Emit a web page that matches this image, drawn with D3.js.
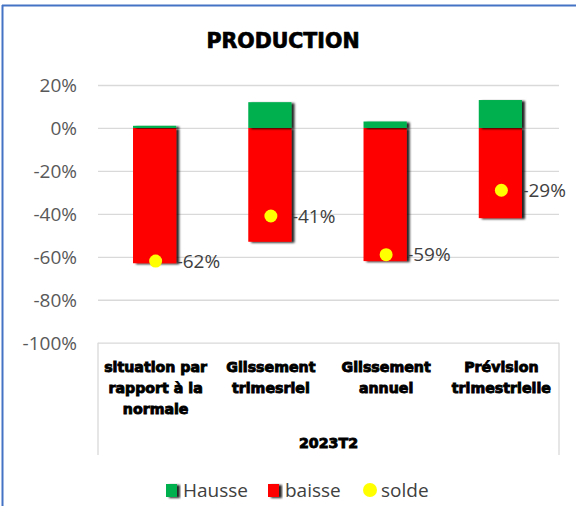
<!DOCTYPE html>
<html>
<head>
<meta charset="utf-8">
<script src="https://cdn.jsdelivr.net/npm/d3@7"></script>
<style>
  html, body { margin: 0; padding: 0; background: #fff; }
  svg { display: block; }
</style>
</head>
<body>
<div id="chart"></div>
<script>
// Production survey balances, 2023T2
const categories = [
  ["situation par", "rapport à la", "normale"],
  ["Glissement", "trimesriel"],
  ["Glissement", "annuel"],
  ["Prévision", "trimestrielle"]
];
const hausse = [1, 12, 3, 13];
const baisse = [-63, -53, -62, -42];
const solde = [-62, -41, -59, -29];
const yTicks = [20, 0, -20, -40, -60, -80, -100];
const periodLabel = "2023T2";
const legendItems = [
  { key: "Hausse", type: "rect", color: "#00B050" },
  { key: "baisse", type: "rect", color: "#FF0000" },
  { key: "solde", type: "dot", color: "#FFFF00" }
];

const W = 576, H = 506;
const svg = d3.select("#chart").append("svg").attr("width", W).attr("height", H);

const defs = svg.append("defs");
const shadow = defs.append("filter").attr("id", "barShadow")
  .attr("x", "-20%").attr("y", "-20%").attr("width", "150%").attr("height", "150%");
shadow.append("feDropShadow")
  .attr("dx", 3).attr("dy", 1).attr("stdDeviation", 1.2)
  .attr("flood-color", "#000").attr("flood-opacity", 0.85);

// outer frame (top and left edges)
svg.append("line").attr("x1", 2).attr("x2", W).attr("y1", 5.5).attr("y2", 5.5)
  .attr("stroke", "#4472C4").attr("stroke-width", 2);
svg.append("line").attr("x1", 2.5).attr("x2", 2.5).attr("y1", 5).attr("y2", H)
  .attr("stroke", "#4472C4").attr("stroke-width", 2);

// title
svg.append("text").attr("x", 283).attr("y", 48).attr("text-anchor", "middle")
  .attr("font-family", "'DejaVu Sans', sans-serif").attr("font-weight", "bold")
  .attr("font-size", 20.5).attr("fill", "#000").attr("stroke", "#000").attr("stroke-width", 0.7)
  .text("PRODUCTION");

const plotL = 98, plotR = 559;
const y = d3.scaleLinear().domain([-100, 20]).range([342.7, 85]);
const x = d3.scaleBand().domain(d3.range(categories.length)).range([plotL, plotR]).padding(0);
const barW = x.bandwidth() * 0.375;
const cx = i => x(i) + x.bandwidth() / 2 - 1;

// gridlines + y labels
const yAxis = d3.axisLeft(y).tickValues(yTicks).tickSize(-(plotR - plotL)).tickFormat(d => d + "%");
const gy = svg.append("g").attr("transform", `translate(${plotL},0)`).call(yAxis);
gy.select(".domain").remove();
gy.selectAll(".tick line").attr("stroke", "#d9d9d9").attr("stroke-width", 1.3);
gy.selectAll(".tick text").attr("x", -21).attr("dy", "0.35em")
  .attr("font-family", "'Open Sans', sans-serif").attr("font-size", 19).attr("fill", "#595959");

// category box below the -100% line
const boxTop = y(-100), boxBottom = 455;
[plotL, plotR].forEach(px => {
  svg.append("line").attr("x1", px).attr("x2", px).attr("y1", boxTop).attr("y2", boxBottom)
    .attr("stroke", "#d9d9d9").attr("stroke-width", 1.3);
});

// bars
const bars = svg.append("g");
bars.selectAll("rect.baisse").data(baisse).join("rect").attr("class", "baisse")
  .attr("x", (d, i) => cx(i) - barW / 2).attr("width", barW)
  .attr("y", y(0)).attr("height", d => y(d) - y(0))
  .attr("fill", "#FF0000").attr("filter", "url(#barShadow)");
bars.selectAll("rect.hausse").data(hausse).join("rect").attr("class", "hausse")
  .attr("x", (d, i) => cx(i) - barW / 2).attr("width", barW)
  .attr("y", d => y(d)).attr("height", d => y(0) - y(d))
  .attr("fill", "#00B050").attr("filter", "url(#barShadow)");

// solde markers and labels
svg.append("g").selectAll("circle").data(solde).join("circle")
  .attr("cx", (d, i) => cx(i) + 1).attr("cy", d => y(d)).attr("r", 6.5).attr("fill", "#FFFF00");
svg.append("g").selectAll("text").data(solde).join("text")
  .attr("x", (d, i) => cx(i) + 22).attr("y", d => y(d)).attr("dy", "0.36em")
  .attr("font-family", "'Open Sans', sans-serif").attr("font-size", 19).attr("fill", "#404040")
  .text(d => d + "%");

// category labels
const catG = svg.append("g").attr("font-family", "'DejaVu Sans', sans-serif")
  .attr("font-weight", "bold").attr("font-size", 14.2).attr("fill", "#000")
  .attr("stroke", "#000").attr("stroke-width", 0.9).attr("text-anchor", "middle");
categories.forEach((lines, i) => {
  lines.forEach((ln, j) => {
    catG.append("text").attr("x", x(i) + x.bandwidth() / 2).attr("y", 367 + j * 21)
      .attr("dy", "0.35em").text(ln);
  });
});
catG.append("text").attr("x", (plotL + plotR) / 2).attr("y", 443).attr("dy", "0.35em").text(periodLabel);

// legend
const lg = svg.append("g");
const legendX = [166, 268, 362];
legendItems.forEach((it, i) => {
  const gx = legendX[i];
  if (it.type === "rect") {
    lg.append("rect").attr("x", gx).attr("y", 484).attr("width", 11).attr("height", 13)
      .attr("fill", it.color).attr("filter", "url(#barShadow)");
  } else {
    lg.append("circle").attr("cx", gx + 8).attr("cy", 490).attr("r", 7).attr("fill", it.color);
  }
  lg.append("text").attr("x", gx + (it.type === "rect" ? 17 : 19)).attr("y", 490).attr("dy", "0.36em")
    .attr("font-family", "'Open Sans', sans-serif").attr("font-size", 19).attr("fill", "#404040")
    .text(it.key);
});
</script>
</body>
</html>
